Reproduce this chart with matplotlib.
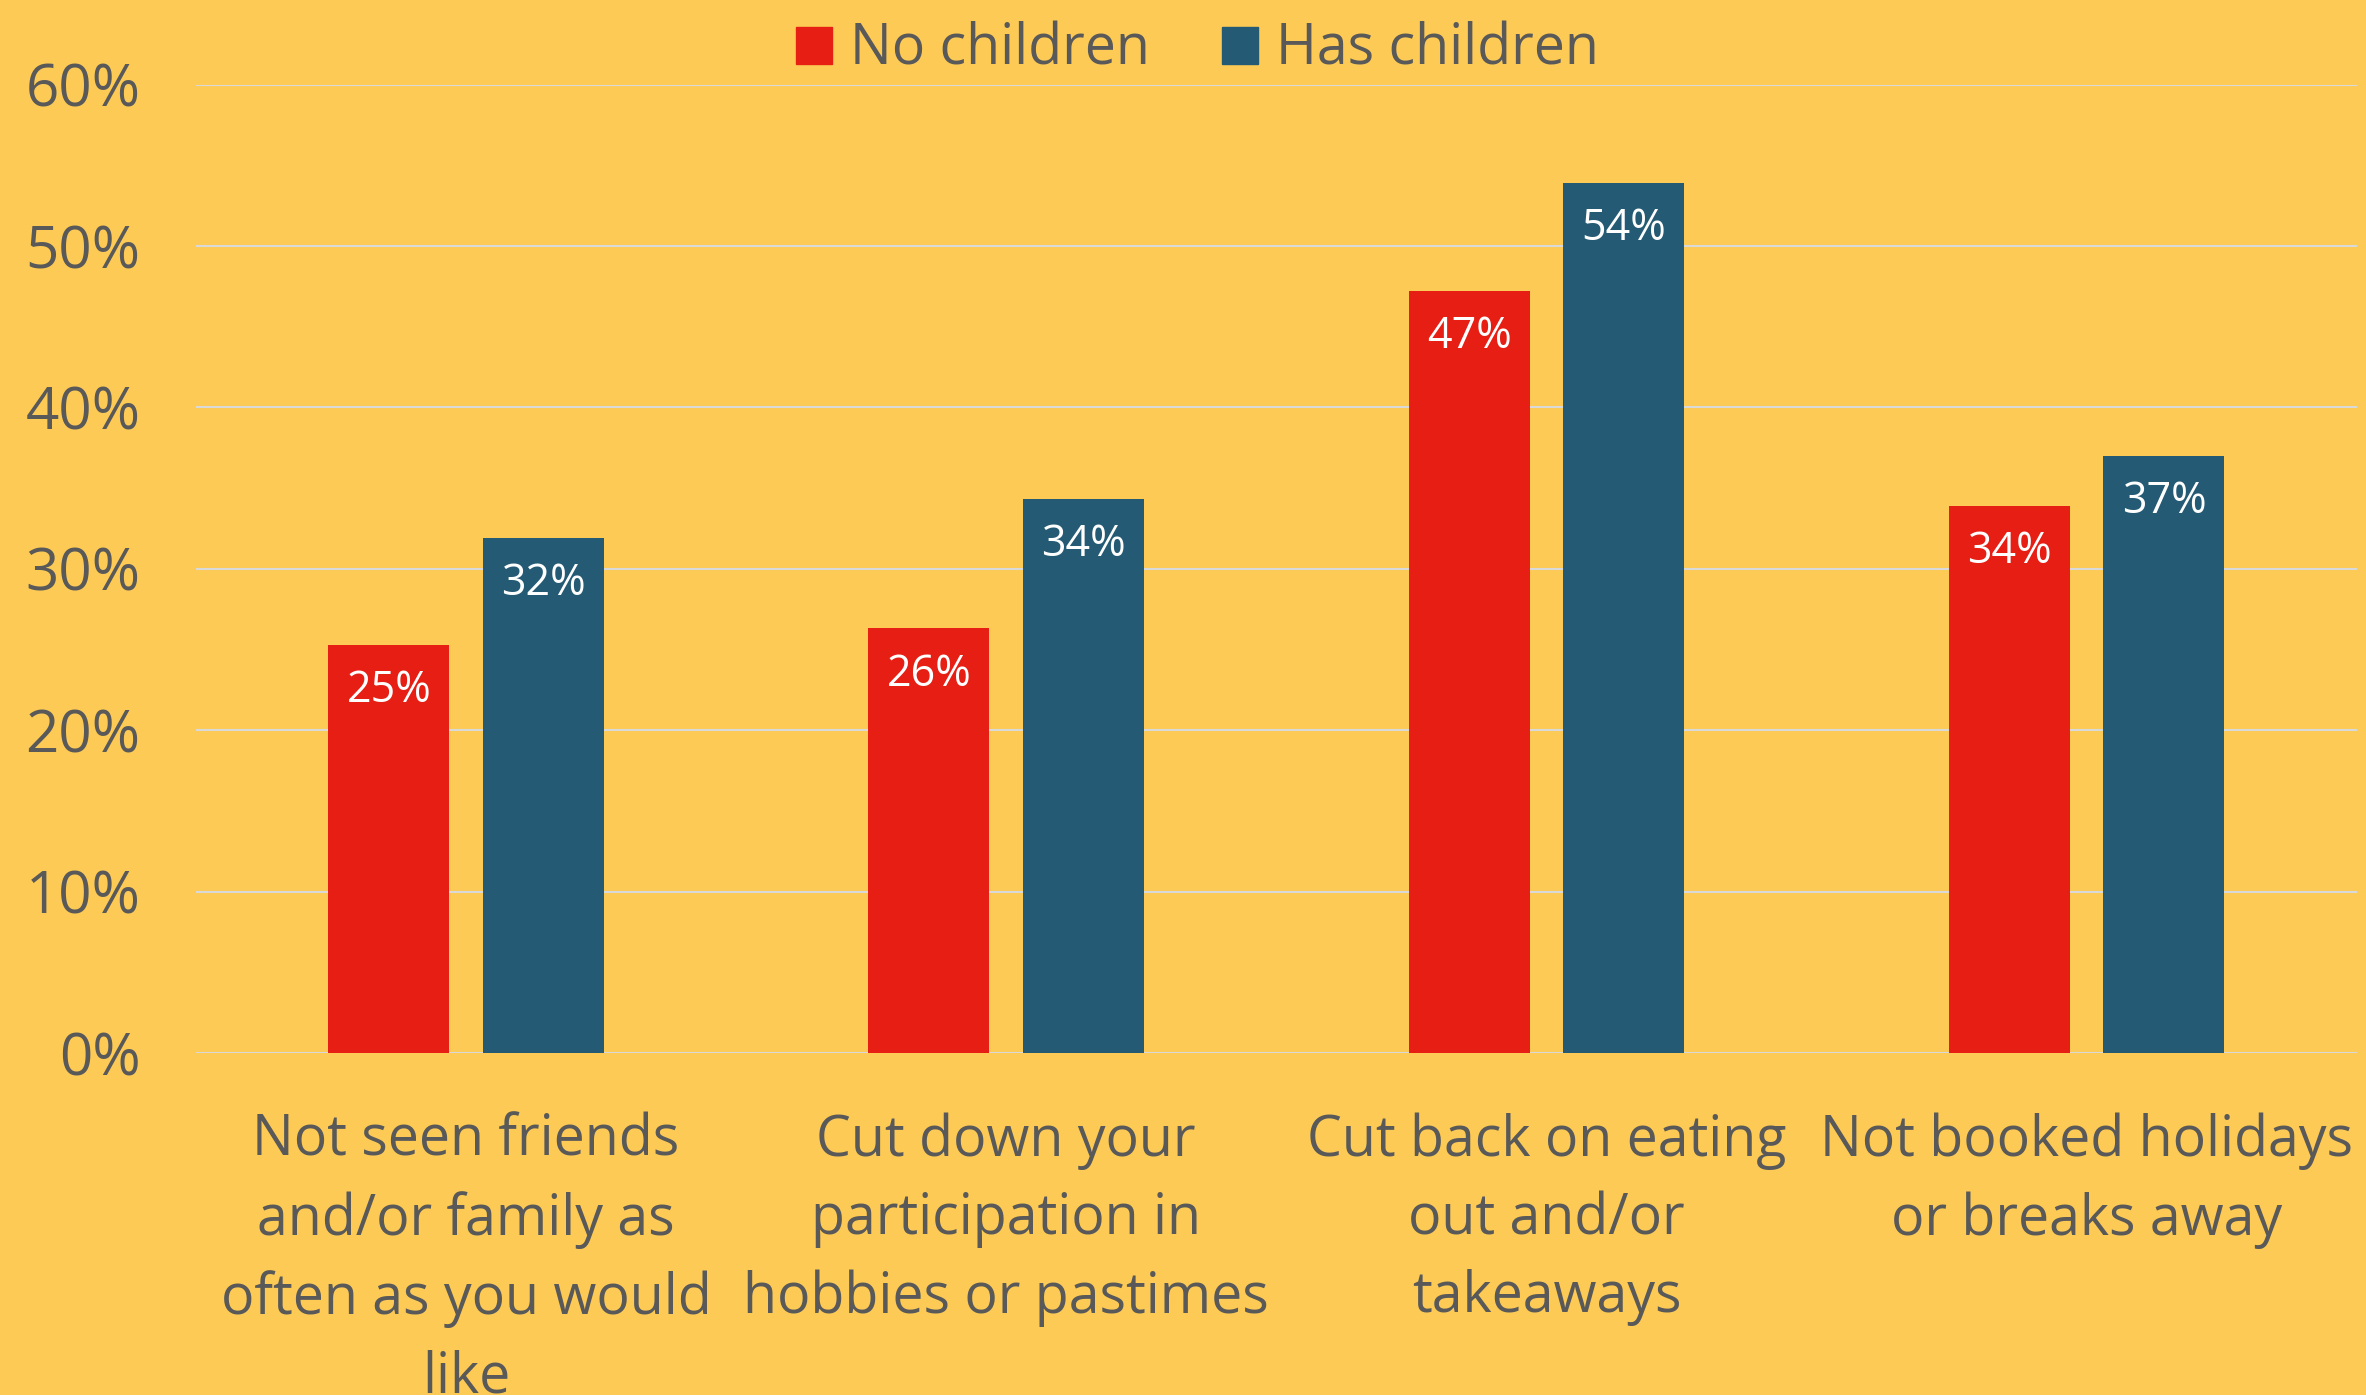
import numpy as np
import matplotlib
matplotlib.use('Agg')
import matplotlib.pyplot as plt
from matplotlib.patches import Patch

categories = ['Not seen friends\nand/or family as\noften as you would\nlike',
              'Cut down your\nparticipation in\nhobbies or pastimes',
              'Cut back on eating\nout and/or\ntakeaways',
              'Not booked holidays\nor breaks away']
no_children = [0.253, 0.263, 0.472, 0.339]
has_children = [0.319, 0.343, 0.539, 0.370]
series_names = ['No children', 'Has children']
yticks = [0, 0.1, 0.2, 0.3, 0.4, 0.5, 0.6]

bg = '#FDCB55'
red = '#E61E14'
blue = '#245A73'
grey = '#595959'
font = ['Open Sans', 'DejaVu Sans']

fig = plt.figure(figsize=(23.66, 13.95), dpi=100, facecolor=bg)
ax = fig.add_axes([0.0828, 0.2452, 0.9133, 0.6942], facecolor=bg)

x = np.arange(len(categories))
w = 0.224
off = 0.143
b1 = ax.bar(x - off, no_children, w, color=red, zorder=3)
b2 = ax.bar(x + off, has_children, w, color=blue, zorder=3)

for bars, vals in [(b1, no_children), (b2, has_children)]:
    for r, v in zip(bars, vals):
        ax.annotate(f'{round(v * 100)}%', (r.get_x() + r.get_width() / 2, v),
                    xytext=(0, -33), textcoords='offset points',
                    ha='center', va='center', color='white',
                    fontsize=31, family=font)

ax.set_xlim(-0.5, 3.5)
ax.set_ylim(0, 0.6)
ax.set_yticks(yticks)
ax.set_yticklabels([f'{int(round(t * 100))}%' for t in yticks],
                   fontsize=42, color=grey, family=font)
ax.set_xticks(x)
ax.set_xticklabels(categories, fontsize=40, color=grey, family=font,
                   linespacing=1.49, va='top')
ax.tick_params(axis='both', length=0)
ax.tick_params(axis='y', pad=40)
ax.tick_params(axis='x', pad=43)
ax.grid(axis='y', color='#D9D9D9', lw=1.5, zorder=0)
for s in ax.spines.values():
    s.set_visible(False)

handles = [Patch(color=red), Patch(color=blue)]
fig.legend(handles, series_names, loc='center', bbox_to_anchor=(0.506, 0.964),
           ncol=2, frameon=False, prop={'family': font, 'size': 40},
           labelcolor=grey, handlelength=0.65, handleheight=0.65,
           handletextpad=0.32, columnspacing=1.3)

fig.savefig('out.png', dpi=100, facecolor=bg)
